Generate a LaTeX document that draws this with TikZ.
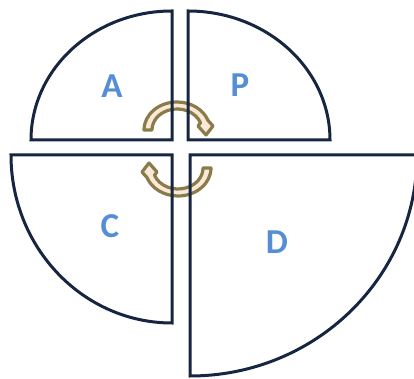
\documentclass[tikz,border=0pt]{standalone}
\usepackage{fontspec}
\setmainfont{Carlito}
\usetikzlibrary{arrows.meta}

\definecolor{navyline}{RGB}{22,37,64}
\definecolor{letterblue}{RGB}{85,142,213}
\definecolor{olivebrd}{RGB}{135,124,74}
\definecolor{creamfill}{RGB}{252,232,214}

\tikzset{
	turnarrow/.pic={
		\draw[olivebrd, fill=creamfill, line width=3.2pt, line join=round]
			(180:33pt and 28pt) arc[start angle=180, end angle=20, x radius=33pt, y radius=28pt]
			-- (36pt,4pt) -- (29pt,-5pt) -- (21pt,4pt)
			-- (20:25pt and 21pt) arc[start angle=20, end angle=180, x radius=25pt, y radius=21pt]
			-- cycle;
	}
}

\begin{document}
\begin{tikzpicture}[x=1pt, y=1pt, line width=3pt,
	quarter/.style={draw=navyline, line join=miter},
	every node/.style={text=letterblue, font=\bfseries\fontsize{35}{35}\selectfont}]

	\clip (0,0) rectangle (414,379);

	% ============ TURN ARROWS (behind the lines) ============
	\pic at (177,249) {turnarrow};
	\pic[rotate=180] at (178,211) {turnarrow};

	% ============ QUARTERS ============
	% top left
	\draw[quarter] (172,239) -- (31,239)
		arc[start angle=180, end angle=90, x radius=141pt, y radius=129pt] -- cycle;
	% top right
	\draw[quarter] (188,239) -- (188,368)
		arc[start angle=90, end angle=0, x radius=142pt, y radius=129pt] -- cycle;
	% bottom left
	\draw[quarter] (172,224) -- (11,224)
		arc[start angle=180, end angle=270, x radius=161pt, y radius=168pt] -- cycle;
	% bottom right
	\draw[quarter] (190,224) -- (190,3)
		arc[start angle=270, end angle=360, x radius=227pt, y radius=221pt] -- cycle;

	% Labels
	\node (lblA) at (112,293) {A};
	\node (lblP) at (240,294) {P};
	\node (lblC) at (110,153) {C};
	\node (lblD) at (277,137) {D};

\end{tikzpicture}
\end{document}
